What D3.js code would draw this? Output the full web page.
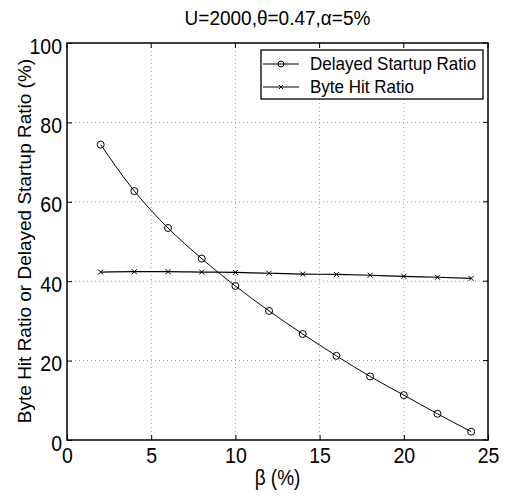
<!DOCTYPE html>
<html>
<head>
<meta charset="utf-8">
<script src="https://cdn.jsdelivr.net/npm/d3@7"></script>
<style>
  body { margin: 0; background: #fff; }
  text { font-family: "Liberation Sans", Arial, sans-serif; fill: #000; }
</style>
</head>
<body>
<div id="chart"></div>
<script>
const beta = [2, 4, 6, 8, 10, 12, 14, 16, 18, 20, 22, 24];
const delayedStartup = [74.4, 62.7, 53.4, 45.7, 38.8, 32.5, 26.7, 21.2, 16.0, 11.3, 6.6, 2.1];
const byteHit = [42.3, 42.4, 42.4, 42.3, 42.2, 42.0, 41.8, 41.7, 41.5, 41.2, 41.0, 40.7];
const xTicks = [0, 5, 10, 15, 20, 25];
const yTicks = [0, 20, 40, 60, 80, 100];
const seriesNames = ["Delayed Startup Ratio", "Byte Hit Ratio"];

const margin = { top: 43, right: 20, bottom: 56, left: 67 };
const W = 508, H = 496;
const width = W - margin.left - margin.right;
const height = H - margin.top - margin.bottom;
const stretch = 1.17; // text in the picture is a bit taller than wide

const svg = d3.select("#chart").append("svg")
  .attr("width", W).attr("height", H);

const g = svg.append("g").attr("transform", `translate(${margin.left},${margin.top})`);

const x = d3.scaleLinear().domain([0, 25]).range([0, width]);
const y = d3.scaleLinear().domain([0, 100]).range([height, 0]);

// grid
g.append("g").selectAll("line").data(xTicks.slice(1, -1)).join("line")
  .attr("x1", d => x(d)).attr("x2", d => x(d))
  .attr("y1", 0).attr("y2", height)
  .attr("stroke", "#999").attr("stroke-dasharray", "1,3");
g.append("g").selectAll("line").data(yTicks.slice(1, -1)).join("line")
  .attr("y1", d => y(d)).attr("y2", d => y(d))
  .attr("x1", 0).attr("x2", width)
  .attr("stroke", "#999").attr("stroke-dasharray", "1,3");

// axes, ticks inward
const xAxis = d3.axisBottom(x).tickValues(xTicks).tickSizeInner(-5).tickSizeOuter(0);
const yAxis = d3.axisLeft(y).tickValues(yTicks).tickSizeInner(-5).tickSizeOuter(0);

const gx = g.append("g").attr("transform", `translate(0,${height})`).call(xAxis);
const gy = g.append("g").call(yAxis);
[gx, gy].forEach(a => {
  a.select(".domain").remove();
  a.selectAll("line").attr("stroke", "#000");
  a.selectAll("text").style("font-size", "19.5px")
    .style("font-family", "Liberation Sans, Arial, sans-serif")
    .attr("x", 0).attr("y", 0).attr("dy", null);
});
gx.selectAll("text").attr("transform", `translate(0,23) scale(1,${stretch})`);
gy.selectAll("text").attr("transform", `translate(-5,10) scale(1,${stretch})`);

// top/right ticks
g.append("g").selectAll("line").data(xTicks).join("line")
  .attr("x1", d => x(d)).attr("x2", d => x(d)).attr("y1", 0).attr("y2", 5).attr("stroke", "#000");
g.append("g").selectAll("line").data(yTicks).join("line")
  .attr("y1", d => y(d)).attr("y2", d => y(d)).attr("x1", width).attr("x2", width - 5).attr("stroke", "#000");

// frame
g.append("rect").attr("width", width).attr("height", height)
  .attr("fill", "none").attr("stroke", "#000").attr("stroke-width", 1.5);

const line = d3.line().x(d => x(d[0])).y(d => y(d[1])).curve(d3.curveMonotoneX);

const ds = beta.map((b, i) => [b, delayedStartup[i]]);
const bh = beta.map((b, i) => [b, byteHit[i]]);

g.append("path").datum(ds).attr("d", line).attr("fill", "none").attr("stroke", "#000").attr("stroke-width", 1);
g.append("path").datum(bh).attr("d", line).attr("fill", "none").attr("stroke", "#000").attr("stroke-width", 1.2);

g.append("g").selectAll("circle").data(ds).join("circle")
  .attr("cx", d => x(d[0])).attr("cy", d => y(d[1])).attr("r", 3.5)
  .attr("fill", "none").attr("stroke", "#000").attr("stroke-width", 1);

function cross(sel, cx, cy, s) {
  sel.append("path")
    .attr("d", `M${cx - s},${cy - s}L${cx + s},${cy + s}M${cx - s},${cy + s}L${cx + s},${cy - s}`)
    .attr("stroke", "#000").attr("stroke-width", 1);
}
const crosses = g.append("g");
bh.forEach(d => cross(crosses, x(d[0]), y(d[1]), 2.5));

// legend
const lg = svg.append("g").attr("transform", "translate(261,50)");
lg.append("rect").attr("width", 222).attr("height", 49)
  .attr("fill", "#fff").attr("stroke", "#000").attr("stroke-width", 1.3);
seriesNames.forEach((name, i) => {
  const cy = 14 + i * 23;
  lg.append("line").attr("x1", 2).attr("x2", 38).attr("y1", cy).attr("y2", cy).attr("stroke", "#000");
  if (i === 0) lg.append("circle").attr("cx", 20).attr("cy", cy).attr("r", 3).attr("fill", "none").attr("stroke", "#000");
  else cross(lg, 20, cy, 2);
  lg.append("text")
    .attr("transform", `translate(49,${cy + 6}) scale(1,1.1)`)
    .style("font-size", "17px").text(name);
});

// title and labels
svg.append("text")
  .attr("transform", `translate(${margin.left + width / 2},25) scale(1,1.1)`)
  .attr("text-anchor", "middle").style("font-size", "19px")
  .text("U=2000,θ=0.47,α=5%");
svg.append("text")
  .attr("transform", `translate(${margin.left + width / 2},485) scale(1,${stretch})`)
  .attr("text-anchor", "middle").style("font-size", "19px")
  .text("β (%)");
svg.append("text")
  .attr("transform", `translate(31,241) rotate(-90)`)
  .attr("text-anchor", "middle").style("font-size", "19px")
  .text("Byte Hit Ratio or Delayed Startup Ratio (%)");
</script>
</body>
</html>
